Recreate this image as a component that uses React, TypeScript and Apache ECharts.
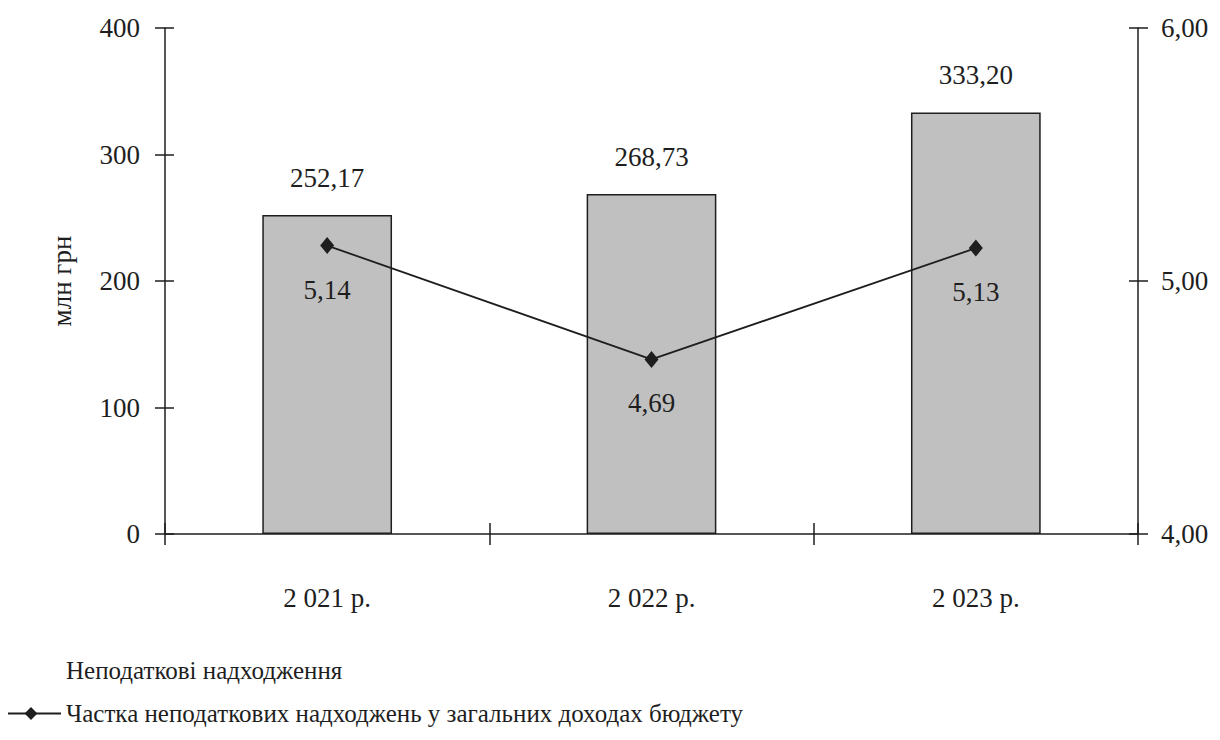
import React, { useEffect, useRef } from "react";
import * as echarts from "echarts";

const categories = ["2 021 р.", "2 022 р.", "2 023 р."];
const revenue = [252.17, 268.73, 333.2];
const share = [5.14, 4.69, 5.13];
const barName = "Неподаткові надходження";
const lineName = "Частка неподаткових надходжень у загальних доходах бюджету";
const leftTicks = { min: 0, max: 400, interval: 100 };
const rightTicks = { min: 4, max: 6, interval: 1 };

const FONT = "serif";
const INK = "#1e1e1e";
const fmt = (v: number, d: number) => v.toFixed(d).replace(".", ",");

export default function App() {
  const ref = useRef<HTMLDivElement>(null);

  useEffect(() => {
    if (!ref.current) return;
    const chart = echarts.init(ref.current, undefined, { renderer: "svg" });
    const axisLine = () => ({ show: true, lineStyle: { color: INK, width: 1.5 } });
    const tickStyle = () => ({ color: INK, width: 1.5 });
    const labelText = () => ({ fontFamily: FONT, fontSize: 27, color: INK });

    chart.setOption({
      animation: false,
      backgroundColor: "#ffffff",
      textStyle: { fontFamily: FONT },
      grid: { left: 165, right: 82, top: 28, bottom: 206, containLabel: false },
      legend: {
        orient: "vertical",
        left: 0,
        top: 658,
        padding: 0,
        itemWidth: 60,
        itemHeight: 16,
        itemGap: 18,
        textStyle: { fontFamily: FONT, fontSize: 25, color: INK },
        data: [{ name: barName, icon: "none" }, { name: lineName }],
      },
      xAxis: [
        {
          type: "category",
          data: categories,
          boundaryGap: true,
          axisLine: axisLine(),
          axisTick: { show: true, length: 11, lineStyle: tickStyle() },
          axisLabel: { ...labelText(), margin: 50 },
        },
        {
          type: "category",
          data: categories,
          boundaryGap: true,
          position: "bottom",
          axisLine: { show: false },
          axisTick: { show: true, inside: true, length: 11, lineStyle: tickStyle() },
          axisLabel: { show: false },
        },
      ],
      yAxis: [
        {
          type: "value",
          position: "left",
          ...leftTicks,
          name: "млн грн",
          nameLocation: "middle",
          nameGap: 90,
          nameRotate: 90,
          nameTextStyle: { fontFamily: FONT, fontSize: 27, color: INK },
          axisLine: axisLine(),
          axisTick: { show: true, length: 10, lineStyle: tickStyle() },
          axisLabel: { ...labelText(), margin: 25 },
          splitLine: { show: false },
        },
        {
          type: "value",
          position: "right",
          ...rightTicks,
          axisLine: axisLine(),
          axisTick: { show: true, length: 10, lineStyle: tickStyle() },
          axisLabel: { ...labelText(), margin: 23, formatter: (v: number) => fmt(v, 2) },
          splitLine: { show: false },
        },
        {
          type: "value",
          position: "left",
          ...leftTicks,
          axisLine: { show: false },
          axisTick: { show: true, inside: true, length: 9, lineStyle: tickStyle() },
          axisLabel: { show: false },
          splitLine: { show: false },
        },
        {
          type: "value",
          position: "right",
          ...rightTicks,
          axisLine: { show: false },
          axisTick: { show: true, inside: true, length: 9, lineStyle: tickStyle() },
          axisLabel: { show: false },
          splitLine: { show: false },
        },
      ],
      series: [
        {
          name: barName,
          type: "bar",
          xAxisIndex: 0,
          yAxisIndex: 0,
          data: revenue,
          barWidth: "40%",
          itemStyle: { color: "#c0c0c0", borderColor: INK, borderWidth: 1.5 },
          label: {
            show: true,
            position: "top",
            distance: 24,
            ...labelText(),
            formatter: (p: any) => fmt(p.value, 2),
          },
        },
        {
          name: lineName,
          type: "line",
          xAxisIndex: 0,
          yAxisIndex: 1,
          data: share,
          symbol: "diamond",
          symbolSize: [14, 17],
          lineStyle: { color: INK, width: 1.8 },
          itemStyle: { color: INK },
          label: {
            show: true,
            position: "bottom",
            distance: 22,
            ...labelText(),
            formatter: (p: any) => fmt(p.value, 2),
          },
        },
      ],
    });
    return () => chart.dispose();
  }, []);

  return <div ref={ref} style={{ width: 1220, height: 740, margin: -8 }} />;
}
